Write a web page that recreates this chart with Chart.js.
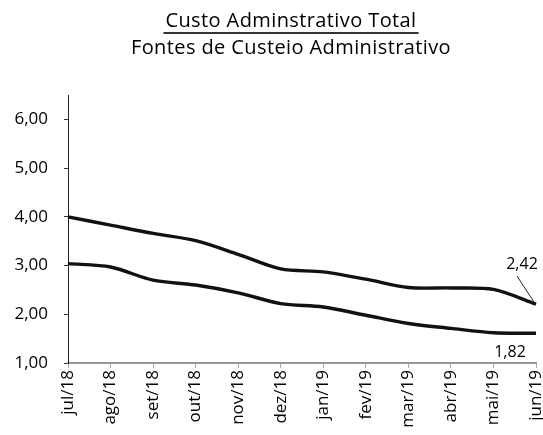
<!DOCTYPE html>
<html>
  <head>
    <title>Custo Administrativo</title>
    <style>
      html, body { margin: 0; padding: 0; background: #fff; }
    </style>
  </head>
  <body>
    <canvas id="canvas" width="543" height="435"></canvas>
    <script src="https://cdn.jsdelivr.net/npm/chart.js@4"></script>
    <script>
      const months = ['jul/18', 'ago/18', 'set/18', 'out/18', 'nov/18', 'dez/18',
                      'jan/19', 'fev/19', 'mar/19', 'abr/19', 'mai/19', 'jun/19'];
      const custoTotal = [4.00, 3.83, 3.66, 3.51, 3.23, 2.93, 2.87, 2.72, 2.55, 2.54, 2.51, 2.21];
      const fontesCusteio = [3.04, 2.97, 2.70, 2.60, 2.44, 2.22, 2.15, 1.98, 1.81, 1.71, 1.62, 1.61];
      const yTicks = [1, 2, 3, 4, 5, 6];
      const lastLabels = ['2,42', '1,82'];
      const titleLines = ['Custo Adminstrativo Total', 'Fontes de Custeio Administrativo'];

      const FONT = "'Open Sans', 'Noto Sans', sans-serif";

      // two title lines (first underlined) + labels on the last points
      const extras = {
        id: 'extras',
        afterDraw(chart) {
          const ctx = chart.ctx;
          ctx.save();
          ctx.fillStyle = '#000';
          ctx.textAlign = 'center';
          ctx.textBaseline = 'middle';
          ctx.font = '500 20px ' + FONT;
          ctx.letterSpacing = '0.4px';
          const cx = 291;
          ctx.fillText(titleLines[0], cx, 21);
          ctx.fillText(titleLines[1], cx, 48);
          const w = ctx.measureText(titleLines[0]).width;
          ctx.strokeStyle = '#333';
          ctx.lineWidth = 2;
          ctx.beginPath();
          ctx.moveTo(cx - w / 2 - 2, 33);
          ctx.lineTo(cx + w / 2 + 2, 33);
          ctx.stroke();
          ctx.letterSpacing = '0px';

          const p0 = chart.getDatasetMeta(0).data[months.length - 1];
          const p1 = chart.getDatasetMeta(1).data[months.length - 1];
          ctx.font = '16px ' + FONT;
          ctx.fillText(lastLabels[0], p0.x - 14, p0.y - 40);
          ctx.fillText(lastLabels[1], p1.x - 26, p1.y + 19);
          ctx.strokeStyle = '#222';
          ctx.lineWidth = 1;
          ctx.beginPath();
          ctx.moveTo(p0.x - 19, p0.y - 28);
          ctx.lineTo(p0.x - 2, p0.y - 2);
          ctx.stroke();
          ctx.restore();
        },
      };

      new Chart(document.getElementById('canvas').getContext('2d'), {
        type: 'line',
        data: {
          labels: months,
          datasets: [
            {
              label: titleLines[0],
              data: custoTotal,
              borderColor: '#111',
              borderWidth: 3.4,
              pointRadius: 0,
              tension: 0.3,
            },
            {
              label: titleLines[1],
              data: fontesCusteio,
              borderColor: '#111',
              borderWidth: 3.4,
              pointRadius: 0,
              tension: 0.3,
            },
          ],
        },
        options: {
          responsive: false,
          animation: false,
          layout: { padding: { left: 0, right: 0, top: 95, bottom: 0 } },
          plugins: {
            legend: { display: false },
            tooltip: { enabled: false },
          },
          scales: {
            x: {
              offset: false,
              afterFit(scale) {
                scale.height = 72;
                scale.paddingLeft = 0;
                scale.paddingRight = 7;
              },
              grid: { drawOnChartArea: false, tickLength: 5, color: '#aaa' },
              border: { color: '#999', width: 2 },
              ticks: {
                color: '#000',
                font: { family: FONT, size: 17 },
                minRotation: 90,
                maxRotation: 90,
                autoSkip: false,
                padding: 2,
              },
            },
            y: {
              min: 1,
              max: 6.5,
              afterBuildTicks(scale) {
                scale.ticks = yTicks.map((v) => ({ value: v }));
              },
              afterFit(scale) {
                scale.width = 68;
                scale.paddingTop = 0;
                scale.paddingBottom = 0;
              },
              grid: { drawOnChartArea: false, tickLength: 4, color: '#333' },
              border: { color: '#222', width: 1 },
              ticks: {
                color: '#000',
                font: { family: FONT, size: 17 },
                padding: 16,
                callback: (v) => Number(v).toFixed(2).replace('.', ','),
              },
            },
          },
        },
        plugins: [extras],
      });
    </script>
  </body>
</html>
